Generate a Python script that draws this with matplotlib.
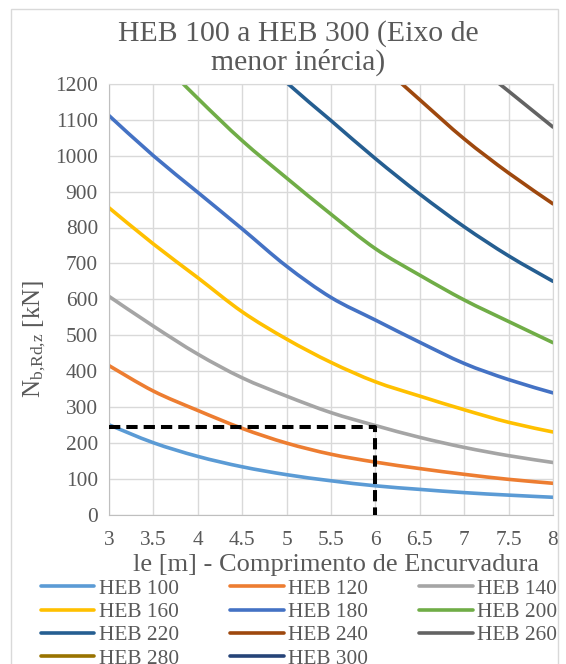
import matplotlib
matplotlib.use("Agg")
import matplotlib.pyplot as plt
from matplotlib.patches import Rectangle, PathPatch
from matplotlib.path import Path
from matplotlib.lines import Line2D

plt.rcParams['font.family'] = ['Liberation Serif', 'DejaVu Serif']
plt.rcParams['mathtext.default'] = 'regular'

# Buckling length [m]
le = [3, 3.5, 4, 4.5, 5, 5.5, 6, 6.5, 7, 7.5, 8]

# Design buckling resistance about the minor axis, N_b,Rd,z [kN]
heb100 = [250, 200, 162, 133, 111, 94, 80, 70, 61, 54, 48]
heb120 = [415, 344, 290, 240, 199, 168, 146, 128, 112, 98, 87]
heb140 = [608, 525, 447, 381, 330, 284, 248, 215, 187, 164, 145]
heb160 = [855, 754, 660, 565, 489, 424, 370, 330, 292, 257, 230]
heb180 = [1112, 1000, 898, 796, 692, 605, 542, 480, 421, 376, 339]
heb200 = [1420, 1285, 1160, 1042, 938, 837, 741, 667, 598, 538, 479]
heb220 = [1770, 1600, 1450, 1320, 1204, 1098, 992, 893, 802, 721, 650]
heb240 = [2140, 1950, 1780, 1630, 1495, 1375, 1266, 1156, 1047, 952, 866]
heb260 = [2530, 2310, 2110, 1930, 1770, 1630, 1500, 1385, 1280, 1180, 1080]
heb280 = [2820, 2600, 2390, 2200, 2020, 1860, 1710, 1580, 1460, 1380, 1300]
heb300 = [3100, 2880, 2660, 2450, 2260, 2080, 1920, 1780, 1650, 1540, 1440]

series_names = ["HEB 100", "HEB 120", "HEB 140", "HEB 160", "HEB 180", "HEB 200",
                "HEB 220", "HEB 240", "HEB 260", "HEB 280", "HEB 300"]
series_values = [heb100, heb120, heb140, heb160, heb180, heb200,
                 heb220, heb240, heb260, heb280, heb300]
series_colors = ["#5B9BD5", "#ED7D31", "#A5A5A5", "#FFC000", "#4472C4", "#70AD47",
                 "#255E91", "#9E480E", "#636363", "#997300", "#264478"]

# Reference line: 245 kN read at le = 6 m
guide_x = [3, 6, 6]
guide_y = [245, 245, 0]

x_ticks = [3, 3.5, 4, 4.5, 5, 5.5, 6, 6.5, 7, 7.5, 8]
x_tick_labels = ["3", "3.5", "4", "4.5", "5", "5.5", "6", "6.5", "7", "7.5", "8"]
y_ticks = list(range(0, 1201, 100))

TEXT = "#595959"
W, H = 566, 664


def smooth_path(xs, ys):
    """Smoothed polyline (Catmull-Rom as cubic Bezier) through the data points."""
    pts = list(zip(xs, ys))
    n = len(pts)
    verts = [pts[0]]
    codes = [Path.MOVETO]
    for i in range(n - 1):
        p0 = pts[i - 1] if i > 0 else pts[i]
        p1 = pts[i]
        p2 = pts[i + 1]
        p3 = pts[i + 2] if i + 2 < n else pts[i + 1]
        c1 = (p1[0] + (p2[0] - p0[0]) / 6, p1[1] + (p2[1] - p0[1]) / 6)
        c2 = (p2[0] - (p3[0] - p1[0]) / 6, p2[1] - (p3[1] - p1[1]) / 6)
        verts += [c1, c2, p2]
        codes += [Path.CURVE4] * 3
    return Path(verts, codes)


fig = plt.figure(figsize=(W / 100, H / 100), dpi=100)
fig.patches.append(Rectangle((11 / W, -0.01), (558 - 11) / W, (H - 9) / H + 0.01,
                             transform=fig.transFigure, fill=False,
                             edgecolor="#D9D9D9", lw=1))

ax = fig.add_axes([109 / W, 1 - 514.5 / H, (553 - 109) / W, (514.5 - 84) / H])

handles = []
for name, vals, col in zip(series_names, series_values, series_colors):
    patch = PathPatch(smooth_path(le, vals), fill=False, edgecolor=col, lw=2.6,
                      capstyle="round", joinstyle="round", transform=ax.transData)
    ax.add_patch(patch)
    handles.append(Line2D([], [], color=col, lw=2.6, solid_capstyle="round"))

ax.plot(guide_x, guide_y, color="black", lw=2.9, dashes=(2.8, 1.5),
        dash_capstyle="butt", clip_on=False, zorder=5)

ax.set_xlim(3, 8)
ax.set_ylim(0, 1200)
ax.set_xticks(x_ticks)
ax.set_xticklabels(x_tick_labels)
ax.set_yticks(y_ticks)
ax.grid(True, color="#D9D9D9", lw=1)
ax.set_axisbelow(True)
for side in ("top", "right"):
    ax.spines[side].set_color("#D9D9D9")
for side in ("left", "bottom"):
    ax.spines[side].set_color("#BFBFBF")
ax.tick_params(length=0, labelsize=15.4, labelcolor=TEXT)
ax.tick_params(axis="y", pad=8)
ax.tick_params(axis="x", pad=12)

ax.set_xlabel("le [m] - Comprimento de Encurvadura", fontsize=19, color=TEXT, labelpad=3)
ax.xaxis.set_label_coords((336 - 109) / (553 - 109), -(565 - 514.5) / (514.5 - 84))
ax.xaxis.label.set_va("center")

fig.text(35 / W, 1 - 339 / H, "N$_{b{,}Rd{,}z}$ [kN]", rotation=90,
         ha="center", va="center", fontsize=18, color=TEXT)

fig.text(298 / W, 1 - 48 / H, "HEB 100 a HEB 300 (Eixo de\nmenor inércia)",
         ha="center", va="center", fontsize=21.4, color=TEXT, linespacing=1.05)

order = [0, 3, 6, 9, 1, 4, 7, 10, 2, 5, 8]
leg = fig.legend([handles[i] for i in order], [series_names[i] for i in order],
                 ncol=3, loc="upper left", bbox_to_anchor=(41 / W, 1 - 579 / H),
                 frameon=False, fontsize=15.4, handlelength=2.5, handletextpad=0.2,
                 columnspacing=2.4, labelspacing=0.15, borderpad=0, borderaxespad=0)
for t in leg.get_texts():
    t.set_color(TEXT)

fig.savefig("out.png", dpi=100)
